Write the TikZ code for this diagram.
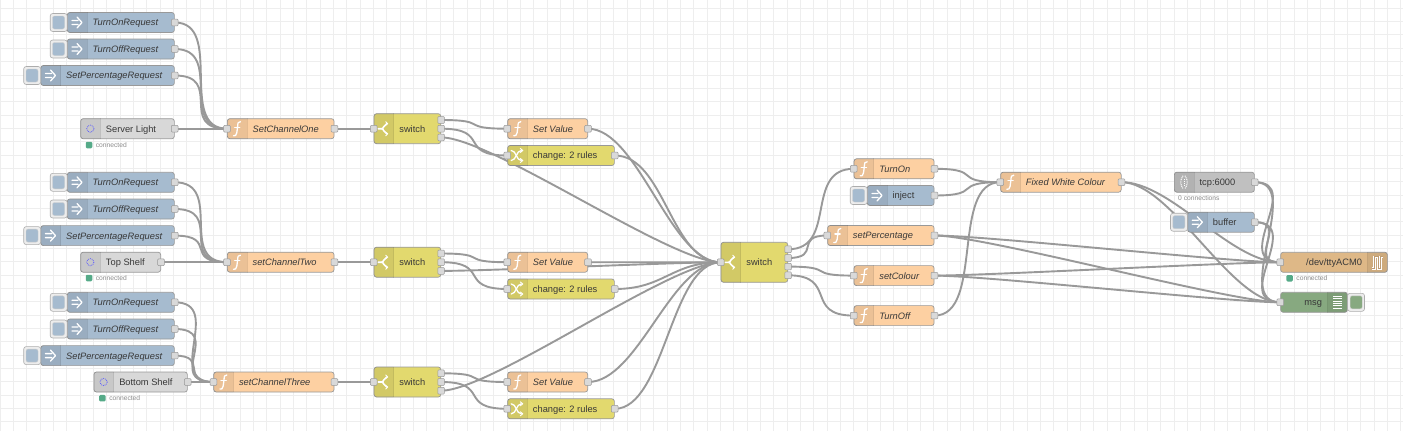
\documentclass[tikz,border=0pt]{standalone}
\usepackage{fontspec}
\setmainfont{Liberation Sans}
\usetikzlibrary{calc}
\definecolor{funccol}{HTML}{FDD0A2}
\definecolor{injectcol}{HTML}{A6BBCF}
\definecolor{switchcol}{HTML}{E2D96E}
\definecolor{mqttcol}{HTML}{D8D8D8}
\definecolor{tcpcol}{HTML}{C0C0C0}
\definecolor{serialcol}{HTML}{DEB887}
\definecolor{debugcol}{HTML}{87A980}
\definecolor{gridcol}{HTML}{EEEEEE}
\definecolor{edgecol}{HTML}{999999}
\definecolor{okcol}{HTML}{55AA88}
\pgfdeclarelayer{wires}
\pgfsetlayers{wires,main}
\tikzset{
	flowbody/.style={
			draw=edgecol, line width=.7pt, rounded corners=2.5pt, minimum height=20pt,
			inner ysep=0pt, inner xsep=25.3pt, text height=9pt, text depth=2.2pt,
			text=black!78, font=\fontsize{9.3}{11}\selectfont
		},
	port/.style={
			draw=edgecol, line width=.5pt, fill=black!15, rounded corners=.9pt,
			minimum size=6.7pt, inner sep=0pt
		},
	btnouter/.style={
			draw=edgecol!80, line width=.6pt, fill=black!7, rounded corners=2.5pt,
			minimum width=17pt, minimum height=18pt, inner sep=0pt
		},
	btninner/.style={
			draw=edgecol!50, line width=.4pt, rounded corners=2pt,
			minimum width=12pt, minimum height=13pt, inner sep=0pt
		},
	okdot/.style={
			fill=okcol, rounded corners=1.2pt, minimum size=6.5pt, inner sep=0pt
		},
	oktext/.style={
			font=\fontsize{6.7}{8}\selectfont, text=black!45, inner sep=0pt
		},
	wire/.style={draw=edgecol, line width=1.9pt},
	tabshade/.style={fill=black, fill opacity=.07},
	tabedge/.style={draw=black, draw opacity=.09, line width=.6pt},
	icon/.style={draw=white, line width=1.3pt, line cap=round, line join=round},
	funcicon/.pic={
			\draw[icon] (3.5,-7) .. controls (1,-7.5) and (.8,-5.5) .. (.6,-2) -- (-.2,4) .. controls (-.6,7) and (-2,7.5) .. (-3.5,7);
			\draw[icon] (-2.4,-1.4) -- (2.8,-1.4);
		},
	injecticon/.pic={\draw[icon] (-5,-2) -- (1,-2) (-5,2) -- (1,2) (0,-5.5) -- (5,0) -- (0,5.5);},
	switchicon/.pic={
			\draw[icon, line width=1.6pt] (-5.5,0) -- (-2,0) .. controls (0,0) and (0,-4) .. (3,-5);
			\draw[icon, line width=1.6pt] (-2,0) .. controls (0,0) and (0,4) .. (3,5);
			\draw[icon, line width=.9pt] (2,-7) -- (4,-5) -- (2,-3.5) (2,7) -- (4,5) -- (2,3.5);
		},
	changeicon/.pic={
			\draw[icon] (-6,-5) .. controls (-1,-5) and (-1,5) .. (4,5);
			\draw[icon] (-6,5) .. controls (-1,5) and (-1,-5) .. (4,-5);
			\draw[icon, line width=.9pt] (3,-7) -- (5.5,-5) -- (3,-3) (3,7) -- (5.5,5) -- (3,3);
		},
	mqtticon/.pic={\draw[draw=blue!65, line width=.8pt, densely dotted] (0,0) circle (3.6);},
	tcpicon/.pic={
			\draw[draw=white, line width=1pt, dash pattern=on 1pt off .8pt] (-1,-6.5) .. controls (-4,-2) and (-4,2) .. (-1,6.5);
			\draw[draw=white, line width=1pt, dash pattern=on 1pt off .8pt] (1,-6.5) .. controls (4,-2) and (4,2) .. (1,6.5);
			\draw[draw=white, line width=1pt, dash pattern=on 1pt off .8pt] (0,-3) -- (0,3);
		},
	serialicon/.pic={
			\draw[icon, line width=2.6pt, line cap=butt, line join=miter]
				(-5.5,6) -- (-3.5,6) -- (-3.5,-5.5) -- (.2,-5.5) -- (.2,6) -- (2.6,6) -- (2.6,-5.5) -- (5.5,-5.5);
			\draw[draw=serialcol!85!black, line width=.8pt, line join=miter]
				(-5.5,6) -- (-3.5,6) -- (-3.5,-5.5) -- (.2,-5.5) -- (.2,6) -- (2.6,6) -- (2.6,-5.5) -- (5.5,-5.5);
		},
	debugicon/.pic={\foreach \dy in {-6,-3.6,-1.2,1.2,3.6,6} {\draw[draw=white, line width=1pt] (-4.5,\dy) -- (4.5,\dy);}},
	noicon/.pic={}
}
% tab on the left: options, name, x, y, width, colour, label, icon
\newcommand{\flowleft}[8][]{
	\node[flowbody, fill=#6, anchor=west, #1] (#2) at (#3,#4) {\makebox[\dimexpr#5pt-50.6pt\relax][l]{#7}};
	\fill[tabshade] ([xshift=20pt]#2.north west) [rounded corners=2.5pt] -- (#2.north west) -- (#2.south west) [sharp corners] -- ([xshift=20pt]#2.south west) -- cycle;
	\draw[tabedge] ([xshift=20pt]#2.north west) -- ([xshift=20pt]#2.south west);
	\pic at ([xshift=10pt]#2.west) {#8};
}
% tab on the right
\newcommand{\flowright}[7]{
	\node[flowbody, fill=#5, anchor=west] (#1) at (#2,#3) {\makebox[\dimexpr#4pt-50.6pt\relax][r]{#6}};
	\fill[tabshade] ([xshift=-20pt]#1.north east) [rounded corners=2.5pt] -- (#1.north east) -- (#1.south east) [sharp corners] -- ([xshift=-20pt]#1.south east) -- cycle;
	\draw[tabedge] ([xshift=-20pt]#1.north east) -- ([xshift=-20pt]#1.south east);
	\pic at ([xshift=-10pt]#1.east) {#7};
}
\newcommand{\okstatus}[3]{
	\node[okdot] (#1-dot) at (#2,#3) {};
	\node[oktext, anchor=west] (#1-txt) at ([xshift=3.2pt]#1-dot.east) {connected};
}
\begin{document}
\begin{tikzpicture}[x=1pt, y=-1pt]
	\useasboundingbox (0,0) rectangle (1403,431);

	% first row
	\flowleft{onA}{67}{22.5}{107}{injectcol}{\textit{TurnOnRequest}}{injecticon}
	\flowleft{offA}{67}{49}{107}{injectcol}{\textit{TurnOffRequest}}{injecticon}
	\flowleft{pctA}{40.5}{75.5}{133.5}{injectcol}{\textit{SetPercentageRequest}}{injecticon}
	\flowleft{lightA}{80.3}{128.7}{93.7}{mqttcol}{Server Light}{mqtticon}
	\okstatus{lightA}{89}{145}
	\flowleft{chanA}{227}{128.7}{106.7}{funccol}{\textit{SetChannelOne}}{funcicon}
	\flowleft[minimum height=30pt]{swA}{373.7}{128.7}{66.7}{switchcol}{switch}{switchicon}
	\flowleft{valA}{507.3}{128.7}{80}{funccol}{\textit{Set Value}}{funcicon}
	\flowleft{chgA}{507.3}{155.5}{106.7}{switchcol}{change: 2 rules}{changeicon}

	% second row
	\flowleft{onB}{67}{182.3}{107}{injectcol}{\textit{TurnOnRequest}}{injecticon}
	\flowleft{offB}{67}{209}{107}{injectcol}{\textit{TurnOffRequest}}{injecticon}
	\flowleft{pctB}{40.5}{235.6}{133.5}{injectcol}{\textit{SetPercentageRequest}}{injecticon}
	\flowleft{lightB}{80.3}{262.2}{80}{mqttcol}{Top Shelf}{mqtticon}
	\okstatus{lightB}{89}{278}
	\flowleft{chanB}{227}{262.2}{106.7}{funccol}{\textit{setChannelTwo}}{funcicon}
	\flowleft[minimum height=30pt]{swB}{373.7}{262.2}{66.7}{switchcol}{switch}{switchicon}
	\flowleft{valB}{507.3}{262.2}{80}{funccol}{\textit{Set Value}}{funcicon}
	\flowleft{chgB}{507.3}{289}{106.7}{switchcol}{change: 2 rules}{changeicon}

	% third row
	\flowleft{onC}{67}{302.3}{107}{injectcol}{\textit{TurnOnRequest}}{injecticon}
	\flowleft{offC}{67}{329}{107}{injectcol}{\textit{TurnOffRequest}}{injecticon}
	\flowleft{pctC}{40.5}{355.6}{133.5}{injectcol}{\textit{SetPercentageRequest}}{injecticon}
	\flowleft{lightC}{93.6}{382}{93.4}{mqttcol}{Bottom Shelf}{mqtticon}
	\okstatus{lightC}{102.4}{398.2}
	\flowleft{chanC}{213.4}{382}{120.3}{funccol}{\textit{setChannelThree}}{funcicon}
	\flowleft[minimum height=30pt]{swC}{373.7}{382}{66.7}{switchcol}{switch}{switchicon}
	\flowleft{valC}{507.3}{382}{80}{funccol}{\textit{Set Value}}{funcicon}
	\flowleft{chgC}{507.3}{408.8}{106.7}{switchcol}{change: 2 rules}{changeicon}

	% right hand side
	\flowleft[minimum height=40pt]{swMain}{720.7}{262.3}{66.7}{switchcol}{switch}{switchicon}
	\flowleft{turnOn}{853.7}{168.8}{80}{funccol}{\textit{TurnOn}}{funcicon}
	\flowleft{inject}{867}{195.5}{66.7}{injectcol}{inject}{injecticon}
	\flowleft{setPct}{827.3}{235.5}{106.4}{funccol}{\textit{setPercentage}}{funcicon}
	\flowleft{setCol}{853.7}{275.6}{80}{funccol}{\textit{setColour}}{funcicon}
	\flowleft{turnOff}{853.7}{315.6}{80}{funccol}{\textit{TurnOff}}{funcicon}
	\flowleft{white}{1000.3}{182.2}{120.5}{funccol}{\textit{Fixed White Colour}}{funcicon}
	\flowleft{tcp}{1174}{182.2}{80}{tcpcol}{tcp:6000}{tcpicon}
	\node[oktext, anchor=west] (tcp-txt) at (1178,198.6) {0 connections};
	\flowleft{buffer}{1187.3}{222.2}{66.7}{injectcol}{buffer}{injecticon}
	\flowright{tty}{1280.3}{262.3}{106.7}{serialcol}{/dev/ttyACM0}{serialicon}
	\okstatus{tty}{1289.6}{278.3}
	\flowright{msg}{1280.3}{302.3}{66.7}{debugcol}{msg}{debugicon}

	% inject buttons
	\foreach \n in {onA,offA,pctA,onB,offB,pctB,onC,offC,pctC,inject,buffer} {
		\node[btnouter, anchor=east] (\n-btn) at ([xshift=.5pt]\n.west) {};
		\node[btninner, fill=injectcol] (\n-fill) at ([xshift=-.2pt]\n-btn.center) {};
	}
	\node[btnouter, anchor=west] (msg-btn) at ([xshift=-.5pt]msg.east) {};
	\node[btninner, fill=debugcol] (msg-fill) at ([xshift=.2pt]msg-btn.center) {};

	% ports
	\foreach \n in {chanA,swA,valA,chgA,chanB,swB,valB,chgB,chanC,swC,valC,chgC,swMain,turnOn,setPct,setCol,turnOff,white,tty,msg} {
		\node[port] (\n-in) at (\n.west) {};
	}
	\foreach \n in {onA,offA,pctA,lightA,chanA,valA,chgA,onB,offB,pctB,lightB,chanB,valB,chgB,onC,offC,pctC,lightC,chanC,valC,chgC,turnOn,inject,setPct,setCol,turnOff,white,tcp,buffer} {
		\node[port] (\n-out) at (\n.east) {};
	}
	\foreach \s in {swA,swB,swC} {
		\node[port] (\s-1) at ([yshift=8.7pt]\s.east) {};
		\node[port] (\s-2) at (\s.east) {};
		\node[port] (\s-3) at ([yshift=-8.7pt]\s.east) {};
	}
	\node[port] (swMain-1) at ([yshift=13pt]swMain.east) {};
	\node[port] (swMain-2) at ([yshift=4.3pt]swMain.east) {};
	\node[port] (swMain-3) at ([yshift=-4.3pt]swMain.east) {};
	\node[port] (swMain-4) at ([yshift=-13pt]swMain.east) {};

	% grid and wires go under the nodes
	\begin{pgfonlayer}{wires}
		\fill[white] (0,0) rectangle (1403,431);
		\foreach \g in {0,...,105} {
			\draw[gridcol, line width=.8pt] ({\g*13.34},0) -- ({\g*13.34},431);
		}
		\foreach \g in {0,...,32} {
			\draw[gridcol, line width=.8pt] (0,{\g*13.34+8.2}) -- (1403,{\g*13.34+8.2});
		}
		\foreach \a/\b in {
				onA-out/chanA-in, offA-out/chanA-in, pctA-out/chanA-in, lightA-out/chanA-in, chanA-out/swA-in,
				swA-1/valA-in, swA-2/chgA-in, swA-3/swMain-in, valA-out/swMain-in, chgA-out/swMain-in,
				onB-out/chanB-in, offB-out/chanB-in, pctB-out/chanB-in, lightB-out/chanB-in, chanB-out/swB-in,
				swB-1/valB-in, swB-2/chgB-in, swB-3/swMain-in, valB-out/swMain-in, chgB-out/swMain-in,
				onC-out/chanC-in, offC-out/chanC-in, pctC-out/chanC-in, lightC-out/chanC-in, chanC-out/swC-in,
				swC-1/valC-in, swC-2/chgC-in, swC-3/swMain-in, valC-out/swMain-in, chgC-out/swMain-in,
				swMain-1/turnOn-in, swMain-2/setPct-in, swMain-3/setCol-in, swMain-4/turnOff-in,
				turnOn-out/white-in, inject-out/white-in, turnOff-out/white-in,
				white-out/tty-in, white-out/msg-in, setPct-out/tty-in, setPct-out/msg-in,
				setCol-out/tty-in, setCol-out/msg-in, tcp-out/tty-in, tcp-out/msg-in,
				buffer-out/tty-in, buffer-out/msg-in} {
			\draw[wire] let \p1=(\a), \p2=(\b), \n1={min(50pt,0.75*veclen(\x2-\x1,\y2-\y1))} in
				(\p1) .. controls +(\n1,0) and +(-\n1,0) .. (\p2);
		}
	\end{pgfonlayer}
\end{tikzpicture}
\end{document}
